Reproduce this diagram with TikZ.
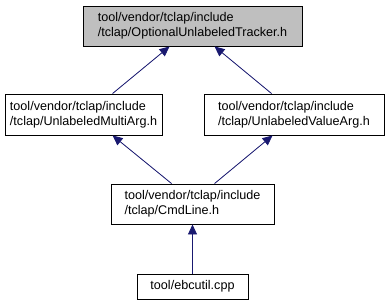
\documentclass[tikz,border=0pt]{standalone}
\usepackage{fontspec}
\setmainfont{Liberation Sans}
\usetikzlibrary{arrows.meta}
\definecolor{edgeblue}{HTML}{191970}
\definecolor{curfill}{HTML}{BFBFBF}
\tikzset{
  filebox/.style={draw=black, line width=0.9pt, fill=white, align=left,
    inner sep=0pt, font=\fontsize{12.6}{15}\selectfont},
  current/.style={filebox, fill=curfill},
  dep/.style={draw=edgeblue, line width=0.8pt,
    -{Triangle[length=10pt,width=9pt]}, fill=edgeblue},
}
\begin{document}
\begin{tikzpicture}[x=1pt, y=-1pt]
  \useasboundingbox (0,0) rectangle (389,305);
  \node[current, minimum width=219pt, minimum height=40pt] (tracker) at (192.5,26)
    {tool/vendor/tclap/include\\/tclap/OptionalUnlabeledTracker.h};
  \node[filebox, minimum width=157pt, minimum height=41pt] (multi) at (83.5,114.5)
    {tool/vendor/tclap/include\\/tclap/UnlabeledMultiArg.h};
  \node[filebox, minimum width=180pt, minimum height=41pt] (value) at (294,114.5)
    {tool/vendor/tclap/include\\/tclap/UnlabeledValueArg.h};
  \node[filebox, minimum width=163pt, minimum height=40pt] (cmdline) at (192.5,204)
    {tool/vendor/tclap/include\\/tclap/CmdLine.h};
  \node[filebox, minimum width=111pt, minimum height=25pt] (ebcutil) at (192.5,286.5)
    {tool/ebcutil.cpp};

  \draw[dep] ([xshift=108pt]multi.north west) -- ([xshift=87pt]tracker.south west);
  \draw[dep] ([xshift=68pt]value.north west) -- ([xshift=132pt]tracker.south west);
  \draw[dep] ([xshift=61pt]cmdline.north west) -- ([xshift=108pt]multi.south west);
  \draw[dep] ([xshift=104pt]cmdline.north west) -- ([xshift=69pt]value.south west);
  \draw[dep] (ebcutil.north) -- (cmdline.south);
\end{tikzpicture}
\end{document}
